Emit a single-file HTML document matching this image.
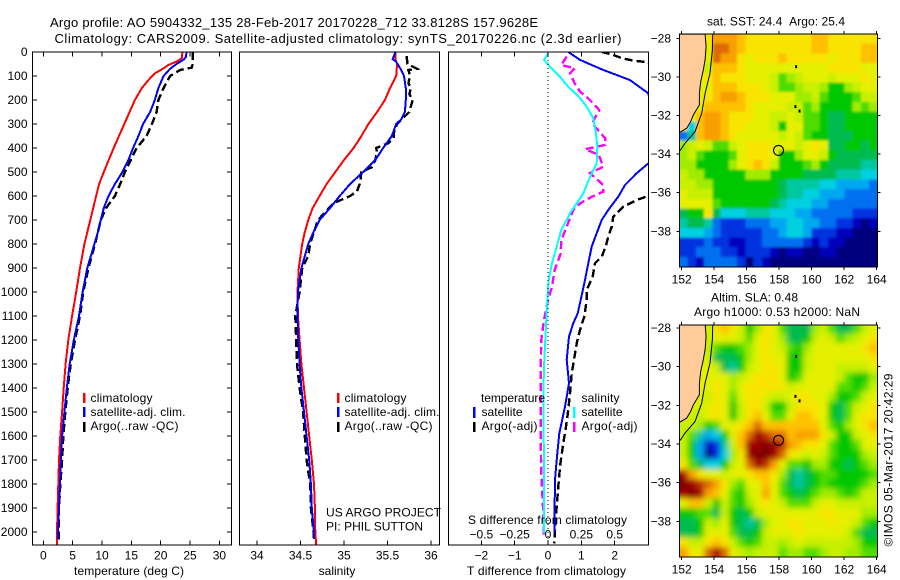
<!DOCTYPE html>
<html>
<head>
<meta charset="utf-8">
<title>Argo profile</title>
<style>
html,body{margin:0;padding:0;background:#fff;}
svg{display:block;}
text{font-family:"Liberation Sans",sans-serif;font-size:12px;fill:#000;}
.frame{fill:none;stroke:#000;stroke-width:1.2;shape-rendering:crispEdges;}
</style>
</head>
<body>
<svg id="chart" xmlns="http://www.w3.org/2000/svg" width="900" height="580" viewBox="0 0 900 580">
  <defs>
    <clipPath id="clip-temp"><rect x="33" y="52" width="198" height="493"/></clipPath>
    <clipPath id="clip-sal"><rect x="240" y="52" width="199" height="493"/></clipPath>
    <clipPath id="clip-diff"><rect x="449" y="52" width="199" height="493"/></clipPath>
    <clipPath id="clip-map1"><rect x="679.5" y="34" width="198" height="233"/></clipPath>
    <clipPath id="clip-map2"><rect x="679.5" y="325" width="198" height="232"/></clipPath>
    <filter id="soft-map1" x="-10%" y="-10%" width="120%" height="120%"><feGaussianBlur stdDeviation="1.3"/></filter>
    <filter id="soft-map2" x="-10%" y="-10%" width="120%" height="120%"><feGaussianBlur stdDeviation="3"/></filter>
  </defs>
  <rect x="0" y="0" width="900" height="580" fill="#fff"/>
  <text x="50" y="27" style="font-size:13px" textLength="488" lengthAdjust="spacing">Argo profile: AO 5904332_135 28-Feb-2017 20170228_712 33.8128S 157.9628E</text>
  <text x="54.5" y="43" style="font-size:13px" textLength="567" lengthAdjust="spacing">Climatology: CARS2009. Satellite-adjusted climatology: synTS_20170226.nc (2.3d earlier)</text>

  <g id="temp-panel"></g>
  <g id="sal-panel"></g>
  <g id="diff-panel"></g>
  <g id="map1-panel"></g>
  <g id="map2-panel"></g>

  <text x="129" y="575" text-anchor="middle" textLength="110" lengthAdjust="spacing">temperature (deg C)</text>
  <text x="337" y="575" text-anchor="middle">salinity</text>
  <text x="467" y="575" textLength="159" lengthAdjust="spacing">T difference from climatology</text>
  <text x="468" y="524" textLength="159" lengthAdjust="spacing">S difference from climatology</text>

  <g>
    <rect x="83" y="393" width="2.5" height="10" fill="#f00"/>
    <rect x="83" y="407" width="2.5" height="10" fill="#00f"/>
    <rect x="83" y="422" width="2.5" height="10" fill="#000"/>
    <text x="90.5" y="402" textLength="62" lengthAdjust="spacing">climatology</text>
    <text x="90.5" y="416" textLength="95" lengthAdjust="spacing">satellite-adj. clim.</text>
    <text x="90.5" y="430" textLength="88" lengthAdjust="spacing">Argo(..raw -QC)</text>
  </g>
  <g>
    <rect x="337" y="393" width="2.5" height="10" fill="#f00"/>
    <rect x="337" y="407" width="2.5" height="10" fill="#00f"/>
    <rect x="337" y="422" width="2.5" height="10" fill="#000"/>
    <text x="344.5" y="402" textLength="62" lengthAdjust="spacing">climatology</text>
    <text x="344.5" y="416" textLength="95" lengthAdjust="spacing">satellite-adj. clim.</text>
    <text x="344.5" y="430" textLength="88" lengthAdjust="spacing">Argo(..raw -QC)</text>
  </g>
  <text x="326" y="516.5" textLength="115" lengthAdjust="spacing">US ARGO PROJECT</text>
  <text x="326" y="530.5" textLength="97" lengthAdjust="spacing">PI: PHIL SUTTON</text>

  <g>
    <text x="481" y="402" textLength="64" lengthAdjust="spacing">temperature</text>
    <text x="481.5" y="416" textLength="41" lengthAdjust="spacing">satellite</text>
    <text x="481.5" y="430" textLength="56" lengthAdjust="spacing">Argo(-adj)</text>
    <rect x="473" y="407" width="2.5" height="11" fill="#00f"/>
    <rect x="473" y="422" width="2.5" height="10" fill="#000"/>
    <text x="581.5" y="402" textLength="38" lengthAdjust="spacing">salinity</text>
    <text x="581.5" y="416" textLength="41" lengthAdjust="spacing">satellite</text>
    <text x="581.5" y="430" textLength="56" lengthAdjust="spacing">Argo(-adj)</text>
    <rect x="573" y="407" width="2.5" height="11" fill="#0ff"/>
    <rect x="573" y="422" width="2.5" height="10" fill="#f0f"/>
  </g>

  <text x="707" y="25.5" textLength="138" lengthAdjust="spacing">sat. SST: 24.4 &#160;Argo: 25.4</text>
  <text x="711" y="301.5" textLength="87" lengthAdjust="spacing">Altim. SLA: 0.48</text>
  <text x="694" y="316" textLength="166" lengthAdjust="spacing">Argo h1000: 0.53 h2000: NaN</text>
  <text transform="translate(892.5,546.5) rotate(-90)" textLength="173" lengthAdjust="spacing">©IMOS 05-Mar-2017 20:42:29</text>
</svg>
<script>
// ---- axis tick labels ----
const depthTicks = [0,100,200,300,400,500,600,700,800,900,1000,1100,1200,1300,1400,1500,1600,1700,1800,1900,2000];
const tempTicks = [0,5,10,15,20,25,30];
const salTicks = [34,34.5,35,35.5,36];
const tDiffTicks = [-2,-1,0,1,2];
const sDiffTicks = [-0.5,-0.25,0,0.25,0.5];
const lonTicks = [152,154,156,158,160,162,164];
const latTicks = [-28,-30,-32,-34,-36,-38];

// ---- temperature profiles ----
const climTempDepth = [0,26,40,54,68,89,117,150,200,250,300,400,500,550,600,700,800,900,1000,1100,1200,1300,1400,1500,1600,1700,1800,1900,2000,2055];
const climTemp = [23.7,23.6,22.7,21.3,20.5,19.0,17.9,16.8,15.6,14.7,13.8,12.0,10.3,9.5,9.0,8.0,7.0,6.25,5.6,4.9,4.26,3.8,3.47,3.2,2.9,2.67,2.56,2.44,2.33,2.3];
const satTempDepth = [0,20,30,50,70,100,150,200,250,300,350,400,450,500,550,600,650,700,750,800,900,1000,1100,1200,1300,1400,1500,1600,1700,1800,1900,2000,2030];
const satTemp = [24.4,24.3,24.0,22.7,21.6,20.5,19.6,19.0,18.2,17.0,16.2,15.3,14.5,13.5,12.2,11.1,10.3,9.8,9.3,8.7,7.5,6.7,6.08,5.2,4.5,4.0,3.6,3.2,3.0,2.84,2.67,2.5,2.5];
const argoTempDepth = [0,50,65,75,100,150,200,250,300,350,400,450,500,550,600,650,700,800,900,1000,1100,1200,1300,1400,1500,1600,1700,1800,1900,2000,2040];
const argoTemp = [25.45,25.45,25.3,23.3,21.6,20.5,19.6,19.3,18.5,17.6,15.9,14.9,13.9,13.1,12.2,10.7,9.8,8.8,7.7,6.8,6.25,5.4,4.66,4.15,3.75,3.4,3.2,2.9,2.67,2.6,2.6];

// ---- salinity profiles ----
const climSalDepth = [0,30,50,100,150,200,250,300,350,400,450,500,550,600,650,700,750,800,900,1000,1100,1200,1300,1400,1500,1600,1700,1800,1900,2000,2055];
const climSal = [35.59,35.59,35.61,35.6,35.53,35.47,35.38,35.28,35.2,35.11,35.0,34.9,34.8,34.72,34.64,34.59,34.55,34.52,34.48,34.465,34.47,34.49,34.51,34.54,34.57,34.6,34.63,34.655,34.665,34.67,34.68];
const satSalDepth = [0,20,30,40,70,100,150,200,250,280,300,350,400,450,500,550,600,650,700,750,800,850,900,1000,1100,1200,1300,1400,1500,1600,1700,1800,1900,2000,2030];
const satSal = [35.59,35.57,35.56,35.6,35.65,35.69,35.71,35.71,35.7,35.66,35.6,35.55,35.45,35.36,35.22,35.07,34.95,34.84,34.72,34.65,34.59,34.55,34.51,34.47,34.465,34.475,34.49,34.51,34.54,34.57,34.6,34.62,34.63,34.655,34.655];
const argoSalDepth = [17,50,70,75,100,130,150,175,200,250,300,340,360,380,400,420,450,480,500,530,550,580,600,630,700,800,850,900,1000,1100,1200,1300,1400,1500,1600,1700,1800,1900,2000,2040];
const argoSal = [35.72,35.73,35.84,35.74,35.76,35.74,35.77,35.75,35.79,35.75,35.61,35.57,35.57,35.51,35.37,35.38,35.36,35.32,35.2,35.19,35.18,35.15,35.07,34.88,34.7,34.61,34.59,34.52,34.49,34.44,34.45,34.46,34.49,34.53,34.55,34.57,34.61,34.62,34.65,34.65];

// ---- differences from climatology ----
const satDTDepth = [0,33,75,96,117,172,300,400,464,505,554,603,658,700,755,811,880,950,1033,1089,1130,1186,1283,1380,1478,1589,1700,1783,1991,2005];
const satDT = [0.61,0.96,1.66,2.06,2.46,3.01,3.2,3.3,3.01,2.66,2.31,2.11,1.81,1.61,1.46,1.31,1.21,1.11,0.98,0.89,0.76,0.63,0.56,0.63,0.51,0.34,0.26,0.21,0.19,0.19];
const argoDTDepth = [0,12,26,36,43,200,400,599,617,644,686,728,769,811,853,880,936,992,1033,1102,1158,1214,1283,1339,1422,1491,1561,1630,1727,1811,1894,1991,2047];
const argoDT = [1.61,1.96,2.21,2.56,3.01,4.0,3.8,3.01,2.66,2.26,1.96,1.91,1.81,1.73,1.61,1.41,1.34,1.16,1.16,1.09,0.96,0.86,0.78,0.71,0.66,0.61,0.54,0.46,0.36,0.31,0.26,0.21,0.19];
const satDSDepth = [6,33,61,103,144,186,228,276,339,394,464,519,589,631,672,742,811,880,950,1033,1172,1311,1450,1727,2005];
const satDS = [0.0,-0.03,0.015,0.09,0.15,0.23,0.29,0.34,0.36,0.37,0.365,0.315,0.265,0.215,0.165,0.10,0.065,0.03,0.005,-0.005,-0.018,-0.03,-0.035,-0.03,-0.03];
const argoDSDepth = [19,54,68,89,131,165,193,221,242,297,360,387,405,429,478,505,554,582,603,631,658,714,783,839,908,978,1033,1116,1200,1311,1450,1616,1755,1922,2019];
const argoDS = [0.14,0.10,0.20,0.165,0.20,0.24,0.30,0.35,0.385,0.33,0.43,0.43,0.28,0.38,0.415,0.315,0.415,0.415,0.33,0.24,0.19,0.15,0.10,0.095,0.05,0.03,0.0,-0.03,-0.05,-0.055,-0.055,-0.055,-0.05,-0.035,-0.03];

// ---- map grids: one character per cell, colour level index, top row = north ----
const levelKeys = "0123456789abcdefghij";
const levelColors = ["#00007f","#0000bb","#0030e0","#0070f0","#00a8f0","#00d0e0","#00c8a0","#00bc50","#00c800","#50dc00","#a0ec00","#c8f000","#e4f000","#f8e400","#ffc000","#f8a000","#dc6a00","#c03000","#a00000","#800000"];
const sstRows = [
"cccd fffe dddd dddd eedd dddd",
"cccc ggfe dddd dddd eedd ddee",
"cccc gffd cddd eddd ddcd ddee",
"cccb eeed cccc cccc ccdd ddcc",
"cccd eddd cccb 9abc ccbc ccdc",
"cccc eeed ddcb 99ab ba88 abcc",
"cccd effe dddc ccaa b988 89bb",
"ccce eeee dccc cbb9 a888 8a9a",
"ccef fedd dccb bcb9 9877 8888",
"c5ef fedd cccb 8cc9 9877 8888",
"36ef fedc cccc bcb9 8877 7888",
"abcb 99bc dddc ccbc dc77 8878",
"ab98 889c dddc 88ac cb87 7777",
"aa88 88ac dedb 8889 a877 7766",
"baa8 8888 aaa8 8887 7776 6655",
"bbaa 8888 8888 7666 6554 4443",
"cbbb 8888 8888 7665 5444 3333",
"cccc 9888 8887 6555 4433 3333",
"788d 7555 6665 5544 3333 3222",
"6776 3222 3334 4554 4332 2101",
"5554 3222 2233 4554 2221 1000",
"2223 2211 2233 3332 1211 0000",
"2233 3221 2221 0110 0110 0000",
"3213 3332 0210 0000 0000 0000"
];
const slaRows = [
"cccb dedb 8adc 9777 ab97 79bc",
"cccb cccb 9cdc a778 bcb9 abcd",
"cccb 9889 acdc b98a cccc ccde",
"cccb 7778 acdc c88b cccc cccd",
"cccc b768 bcdd c88b cccb bbbc",
"cccc ccab cddd c89c cccb 988a",
"cccc dcac dddd dbcc ccc9 989b",
"cccb dc9c ddcb bcdd cca8 89bc",
"ccbc dc8b ddb8 8bdd dc87 9bcd",
"cbbc dc8b dec9 9cee dc87 9cdd",
"bba8 9ccd egee eeee ec98 acde",
"b964 58ce gihg geff fdb8 8bcd",
"b841 26be iiji hfed dc98 89cc",
"b840 25ad ijji gdcb cb98 88ab",
"d975 58bc gihf c998 aa88 789a",
"ifdc cbcc deed a767 8998 8889",
"jihg fda9 ccec 9767 8988 889a",
"ijif ec98 bcfc 9878 9aa9 89bb",
"ceeb 8b98 acdc b999 bccb bbbb",
"8899 7b87 8bcc cccc cddc ccaa",
"778b ac87 67ac cddc ccdc cb98",
"778c cc97 78bc ccdc cccc b977",
"dbbd edb9 89bb abcb bbbb ba88",
"fdcg igcb abbb 9aa9 9abb aa99"
];
// coastline and isobath, lon/lat
const coastLon = [151.85,153.44,153.5,153.44,153.33,153.17,153.09,153.09,152.72,152.55,152.31,151.85];
const coastLat = [-27.78,-27.78,-28.43,-29.12,-29.64,-30.25,-30.85,-31.45,-31.97,-32.32,-32.66,-32.89];
const isoLon = [153.91,153.89,153.74,153.44,153.23,152.82,152.2,151.9];
const isoLat = [-27.78,-28.6,-29.81,-30.85,-31.89,-32.84,-33.44,-33.82];
const islandLon = [159.04,159.0,159.25];
const islandLat = [-29.47,-31.54,-31.77];
const floatLon = 157.96;
const floatLat = -33.81;

// ---- axis functions ----
const depthY = d => 52 + d * 0.24;
const tempX = t => 43.3 + t * 5.87;
const salX = s => 257 + (s - 34) * 87;
const dTX = t => 548 + t * 33.33;
const dSX = s => 548 + s * 133.33;
const lonX = lon => 681.7 + (lon - 152) * 16.25;
const latY1 = lat => 38.3 + (-28 - lat) * 19.3;
const latY2 = lat => 328 + (-28 - lat) * 19.33;
const NS = "http://www.w3.org/2000/svg";
const fmtTick = v => String(v).replace("-", "\u2212");

function mk(parent, tag, attrs) {
  const el = document.createElementNS(NS, tag);
  for (const k in attrs) el.setAttribute(k, attrs[k]);
  parent.appendChild(el);
  return el;
}
function label(parent, x, y, str, anchor) {
  const el = mk(parent, "text", {x: x, y: y, "text-anchor": anchor});
  el.textContent = str;
  return el;
}
function seg(parent, x1, y1, x2, y2) {
  return mk(parent, "line", {x1: x1, y1: y1, x2: x2, y2: y2, stroke: "#000", "stroke-width": 1, "shape-rendering": "crispEdges"});
}
function pathFrom(xs, ys, xf, yf) {
  return xs.map((v, i) => (i ? "L" : "M") + xf(v).toFixed(1) + " " + yf(ys[i]).toFixed(1)).join("");
}
function series(parent, clip, values, depths, xf, color, width, dash, name) {
  const attrs = {d: pathFrom(values, depths, xf, depthY), fill: "none", stroke: color, "stroke-width": width, "clip-path": "url(#" + clip + ")", "shape-rendering": "crispEdges"};
  if (dash) attrs["stroke-dasharray"] = dash;
  const el = mk(parent, "path", attrs);
  
  
  return el;
}
function frame(parent, x, y, w, h, name) {
  const el = mk(parent, "rect", {x: x, y: y, width: w, height: h, "class": "frame"});
  
  
  return el;
}

// ---- temperature panel ----
const tp = document.getElementById("temp-panel");
series(tp, "clip-temp", argoTemp, argoTempDepth, tempX, "#000", 2.4, "8 4", "argo-temperature-line");
series(tp, "clip-temp", climTemp, climTempDepth, tempX, "#f00", 2, null, "climatology-temperature-line");
series(tp, "clip-temp", satTemp, satTempDepth, tempX, "#00f", 2, null, "satellite-temperature-line");
frame(tp, 32.5, 52, 199, 493, "temperature-plot-frame");
depthTicks.forEach(d => {
  const y = depthY(d);
  const t1 = seg(tp, 32.5, y, 37, y);
  
  
  const t2 = seg(tp, 227, y, 231.5, y);
  
  
  const l = label(tp, 27.5, y + 4, String(d), "end");
  
  
});
tempTicks.forEach(v => {
  const x = tempX(v);
  const t1 = seg(tp, x, 52, x, 56.5);
  
  
  const t2 = seg(tp, x, 540.5, x, 545);
  
  
  const l = label(tp, x, 559.5, fmtTick(v), "middle");
  
  
});

// ---- salinity panel ----
const sp = document.getElementById("sal-panel");
series(sp, "clip-sal", argoSal, argoSalDepth, salX, "#000", 2.4, "8 4", "argo-salinity-line");
series(sp, "clip-sal", climSal, climSalDepth, salX, "#f00", 2, null, "climatology-salinity-line");
series(sp, "clip-sal", satSal, satSalDepth, salX, "#00f", 2, null, "satellite-salinity-line");
frame(sp, 239.5, 52, 200, 493, "salinity-plot-frame");
salTicks.forEach(v => {
  const x = salX(v);
  const t2 = seg(sp, x, 540.5, x, 545);
  
  
  const l = label(sp, x, 559.5, String(v), "middle");
  
  
});

// ---- difference panel ----
const dp = document.getElementById("diff-panel");
series(dp, "clip-diff", argoDT, argoDTDepth, dTX, "#000", 2.4, "8 4", "argo-temperature-difference-line");
series(dp, "clip-diff", satDT, satDTDepth, dTX, "#00f", 2, null, "satellite-temperature-difference-line");
series(dp, "clip-diff", argoDS, argoDSDepth, dSX, "#f0f", 2.4, "8 4", "argo-salinity-difference-line");
series(dp, "clip-diff", satDS, satDSDepth, dSX, "#0ff", 2, null, "satellite-salinity-difference-line");
const zeroLine = mk(dp, "line", {x1: dTX(0), y1: 52, x2: dTX(0), y2: 545, stroke: "#000", "stroke-width": 1, "stroke-dasharray": "1 3", "shape-rendering": "crispEdges"});


frame(dp, 448.5, 52, 200, 493, "difference-plot-frame");
tDiffTicks.forEach(v => {
  const x = dTX(v);
  const t1 = seg(dp, x, 52, x, 56.5);
  
  
  const t2 = seg(dp, x, 540.5, x, 545);
  
  
  const l = label(dp, x, 559.5, fmtTick(v), "middle");
  
  
});
sDiffTicks.forEach(v => {
  const l = label(dp, dSX(v), 538.5, fmtTick(v), "middle");
  
  
});

// ---- maps ----
function drawMap(panelId, rows, clip, blurId, latY, top, h, name) {
  const g = document.getElementById(panelId);
  const clipped = mk(g, "g", {"clip-path": "url(#" + clip + ")"});
  
  
  const soft = mk(clipped, "g", {filter: "url(#" + blurId + ")"});
  
  
  const cleanRows = rows.map(r => r.replace(/ /g, ""));
  const lonMin = 151.85, lonMax = 164.04, latMax = -27.78, latMin = -39.83;
  const nRow = cleanRows.length;
  const dLat = (latMax - latMin) / nRow;
  const pad = 14;
  cleanRows.forEach((row, r) => {
    const dLon = (lonMax - lonMin) / row.length;
    for (let c = 0; c < row.length; c++) {
      const x0 = lonX(lonMin + c * dLon) - (c === 0 ? pad : 0);
      const y0 = latY(latMax - r * dLat) - (r === 0 ? pad : 0);
      const w = 16.25 * dLon + 0.6 + (c === 0 || c === row.length - 1 ? pad : 0);
      const ht = 19.3 * dLat + 0.6 + (r === 0 || r === nRow - 1 ? pad : 0);
      const cell = mk(soft, "rect", {x: x0.toFixed(2), y: y0.toFixed(2), width: w.toFixed(2), height: ht.toFixed(2), fill: levelColors[levelKeys.indexOf(row[c])], "shape-rendering": "crispEdges"});
      
      
    }
  });
  const land = mk(g, "path", {d: pathFrom(coastLon, coastLat, lonX, latY) + "Z", fill: "#ffcc99", stroke: "#000", "stroke-width": 1, "clip-path": "url(#" + clip + ")"});
  
  
  const iso = mk(g, "path", {d: pathFrom(isoLon, isoLat, lonX, latY), fill: "none", stroke: "#000", "stroke-width": 1, "clip-path": "url(#" + clip + ")"});
  
  
  islandLon.forEach((lon, i) => {
    const sp2 = mk(g, "rect", {x: lonX(lon) - 1, y: latY(islandLat[i]) - 1.5, width: 2, height: 3, fill: "#000"});
    
    
  });
  const marker = mk(g, "circle", {cx: lonX(floatLon), cy: latY(floatLat), r: 5, fill: "none", stroke: "#000", "stroke-width": 1.1});
  
  
  frame(g, 679.5, top, 198, h, name + '-frame');
  lonTicks.forEach(v => {
    const x = lonX(v);
    const t1 = seg(g, x, top - 3, x, top);
    
    
    const t2 = seg(g, x, top + h, x, top + h + 3);
    
    
    const l = label(g, x, top + h + 16.5, String(v), "middle");
    
    
  });
  latTicks.forEach(v => {
    const y = latY(v);
    const t1 = seg(g, 676.5, y, 679.5, y);
    
    
    const t2 = seg(g, 877.5, y, 880.5, y);
    
    
    const l = label(g, 671, y + 4, fmtTick(v), "end");
    
    
  });
}
drawMap("map1-panel", sstRows, "clip-map1", "soft-map1", latY1, 34, 233, "sst-map");
drawMap("map2-panel", slaRows, "clip-map2", "soft-map2", latY2, 325, 232, "sla-map");
</script>
</body>
</html>
